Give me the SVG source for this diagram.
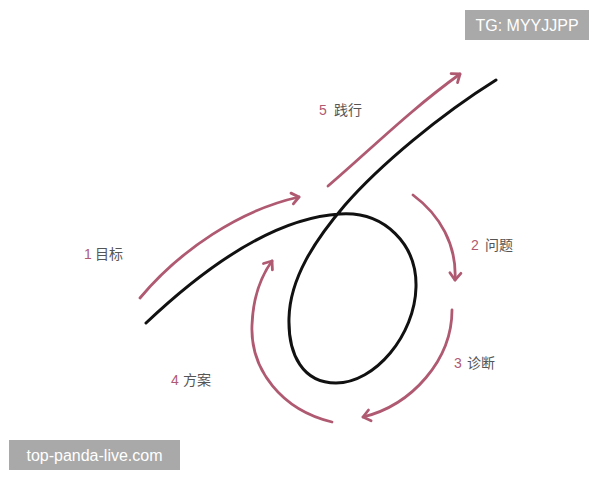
<svg xmlns="http://www.w3.org/2000/svg" width="600" height="480" viewBox="0 0 600 480">
<style>
.arrow{fill:none;stroke:#b05a72;stroke-width:2.8;stroke-linecap:round;marker-end:url(#head)}
.curve{fill:none;stroke:#111;stroke-width:3;stroke-linecap:round}
.num{font-family:"Liberation Sans","Noto Sans CJK SC",sans-serif;font-size:14px;fill:#b05a72}
.lbl{font-family:"Noto Sans CJK SC",sans-serif;font-size:14px;fill:#555}
.wm{font-family:"Liberation Sans",sans-serif;fill:#fff}
</style>
<defs>
<marker id="head" markerUnits="userSpaceOnUse" markerWidth="20" markerHeight="20" refX="10" refY="10" orient="auto">
<path d="M3,4.5 L10,10 L3,15.5" fill="none" stroke="#b05a72" stroke-width="2.8" stroke-linecap="round" stroke-linejoin="round"/>
</marker>
</defs>
<rect width="600" height="480" fill="#fff"/>
<g id="main-curve">
<path class="curve" d="M146,323 C200,272 270,218 340,214 C385,211 417,245 416,287 C415,335 375,383 336,383 C303,383 288,355 289,318 C290,278 315,240 345,205 C380,165 440,115 496,80"/>
</g>
<g id="connectors">
<path class="arrow" d="M140,298 C180,250 240,210 299,197"/>
<path class="arrow" d="M413,195 C440,215 457,245 455,280"/>
<path class="arrow" d="M452,310 C452,360 412,405 363,417"/>
<path class="arrow" d="M332,422 C282,410 250,370 252,325 C253,297 262,275 272,261"/>
<path class="arrow" d="M328,186 C370,150 410,110 460,74"/>
</g>
<g id="n1"><text x="84" y="259" class="num">1</text><text x="95" y="259" class="lbl">目标</text></g>
<g id="n2"><text x="471" y="250" class="num">2</text><text x="485" y="250" class="lbl">问题</text></g>
<g id="n3"><text x="454" y="368" class="num">3</text><text x="467" y="368" class="lbl">诊断</text></g>
<g id="n4"><text x="171" y="385" class="num">4</text><text x="183" y="385" class="lbl">方案</text></g>
<g id="n5"><text x="319" y="115" class="num">5</text><text x="334" y="115" class="lbl">践行</text></g>
<g id="wm1"><rect x="465" y="10" width="124" height="30" fill="#a9a9a9"/><text x="527" y="31" class="wm" font-size="16" text-anchor="middle">TG: MYYJJPP</text></g>
<g id="wm2"><rect x="9" y="440" width="171" height="30" fill="#a9a9a9"/><text x="94.5" y="461" class="wm" font-size="16" text-anchor="middle">top-panda-live.com</text></g>
</svg>
